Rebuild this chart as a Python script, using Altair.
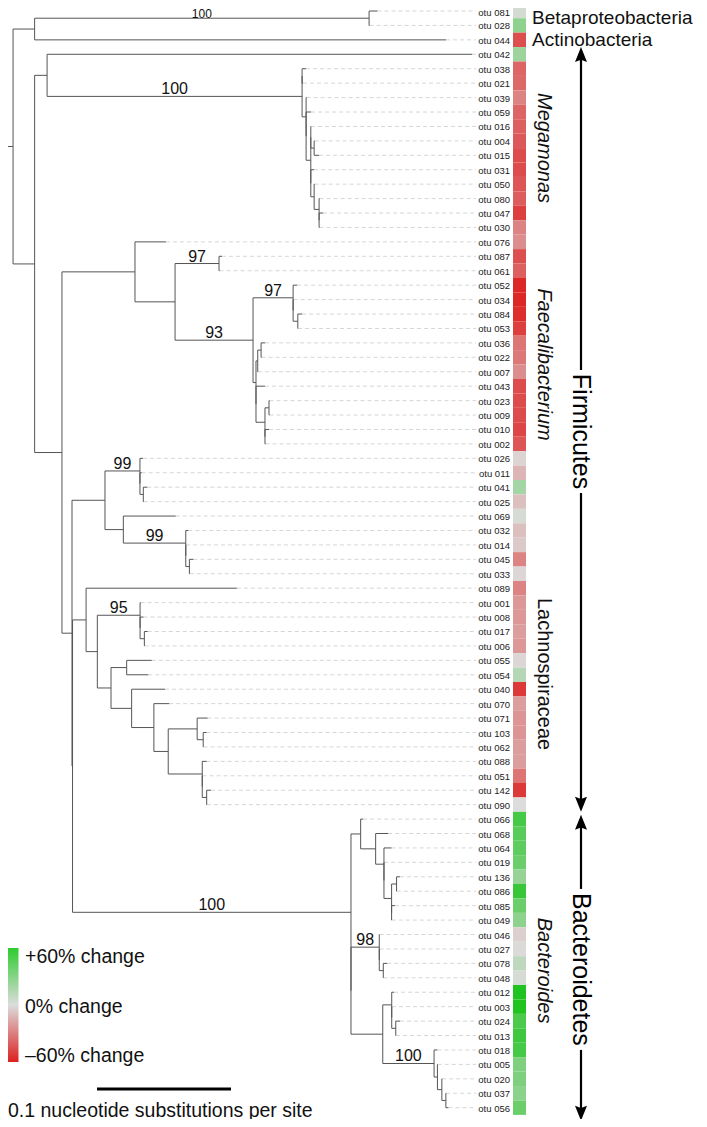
import altair as alt
import pandas as pd

# ---------------- data ----------------
# Tree in Newick fragments: branch lengths in nucleotide substitutions per site,
# internal labels are bootstrap values.
NWK_OUTGROUP = "((081:0.0063,028:0.0004)100:0.2496,044:0.3070)"
NWK_MEGAMONAS = ("((038:0.0030,021:0.0007):0,(039:0.0004,(059:0.0037,((016:0.0002,"
                 "(004:0.0004,015:0.0037):0.0025):0,(031:0.0025,(050:0.0004,(080:0.0004,"
                 "(047:0.0030,030:0.0004):0):0.0037):0.0025):0):0.0035):0):0.0030)100")
NWK_FAECALI = ("((087:0.0022,061:0.0004)97:0.0328,((052:0.0030,(034:0.0004,(084:0.0032,"
               "053:0.0002):0.0035):0)97:0.0299,(((036:0.0030,022:0.0004):0.0025,007:0.0002)"
               ":0.0013,(043:0.0067,((023:0.0004,009:0.0004):0.0030,(010:0.0030,002:0.0004)"
               ":0):0.0067):0):0.0022)93:0.0582)")
NWK_LACHNO_A = ("((026:0.0022,(011:0.0013,(041:0.0030,025:0.0004):0.0025):0)99:0.0261,"
                "(069:0.0391,(032:0.0019,(014:0.0002,(045:0.0030,033:0.0003):0.0027):0)"
                "99:0.0466):0.0137)")
NWK_LACHNO_B = ("(089:0.1125,((001:0.0004,(008:0.0025,(017:0.0025,006:0.0002):0.0032):0)"
                "95:0.0319,((055:0.0187,054:0.0161):0.0117,(040:0.0249,(070:0.0114,"
                "((071:0.0078,(103:0.0025,062:0.0002):0.0045):0.0216,(088:0.0033,(051:0.0002,"
                "(142:0.0032,090:0.0002):0.0033):0):0.0254):0.0107):0.0166):0.0154):0.0102)"
                ":0.0084)")
NWK_BACTEROIDES = ("((066:0.0019,(068:0.0094,(064:0.0057,(019:0.0002,((136:0.0025,086:0.0002)"
                   ":0.0037,(085:0.0025,049:0.0002):0):0.0057):0):0.0062):0.0112):0.0072,"
                   "((046:0.0002,(027:0.0002,(078:0.0030,048:0.0002):0.0030):0)98:0.0211,"
                   "((012:0.0017,(003:0.0002,(024:0.0032,013:0.0002):0.0030):0):0.0067,"
                   "(018:0.0025,(005:0.0002,(020:0.0002,(037:0.0002,056:0.0019):0.0030)"
                   ":0.0033):0.0025)100:0.0383):0.0237):0)100")
NWK_TREE = ("({OUT}:0.0161,((042:0.3172,{MEG}:0.1903):0.0093,((076:0.0231,{FAE}:0.0299)"
            ":0.0545,({LA}:0.0246,({LB}:0.0101,{BAC}:0.2078):0.0004):0.0075):0.0204):0.0161)"
            ":0.0075;").format(OUT=NWK_OUTGROUP, MEG=NWK_MEGAMONAS, FAE=NWK_FAECALI,
                               LA=NWK_LACHNO_A, LB=NWK_LACHNO_B, BAC=NWK_BACTEROIDES)

OTU_IDS = ["081", "028", "044", "042", "038", "021", "039", "059", "016", "004", "015",
           "031", "050", "080", "047", "030", "076", "087", "061", "052", "034", "084",
           "053", "036", "022", "007", "043", "023", "009", "010", "002", "026", "011",
           "041", "025", "069", "032", "014", "045", "033", "089", "001", "008", "017",
           "006", "055", "054", "040", "070", "071", "103", "062", "088", "051", "142",
           "090", "066", "068", "064", "019", "136", "086", "085", "049", "046", "027",
           "078", "048", "012", "003", "024", "013", "018", "005", "020", "037", "056"]
PCT_CHANGE = [3, 25, -45, 20, -38, -37, -28, -38, -40, -42, -46,
              -46, -43, -41, -50, -28, -25, -45, -40, -58, -58, -56,
              -50, -33, -32, -25, -46, -46, -46, -48, -43, -3, -12,
              18, -9, 2, -9, -6, -28, -2, -28, -22, -22, -20,
              -22, -2, 12, -52, -20, -23, -23, -20, -20, -33, -52,
              0, 48, 42, 40, 36, 22, 52, 36, 25, -4, -1,
              10, 2, 60, 60, 46, 50, 48, 30, 30, 26, 36]

CLADE_NAMES = ["Megamonas", "Faecalibacterium", "Lachnospiraceae", "Bacteroides"]
CLADE_ITALIC = [True, True, False, True]
CLADE_CENTER = [9.5, 24.5, 45.95, 66.5]          # leaf-index units
PHYLA = ["Firmicutes", "Bacteroidetes"]
PHYLUM_TIPS = [(2.5, 55.5), (55.7, 76.9)]         # leaf-index units
PHYLUM_CENTER = [29.14, 66.42]
CLASS_NAMES = ["Betaproteobacteria", "Actinobacteria"]
CLASS_CENTER = [0.5, 2.0]
LEGEND_LABELS = ["+60% change", "0% change", "\u201360% change"]
LEGEND_VALUES = [60, 0, -60]
SCALE_BAR_LEN = 0.1
SCALE_TEXT = "0.1 nucleotide substitutions per site"

# ---------------- layout (page pixels) ----------------
W, H = 691, 1111
PX_PER_SUB = 1340.0
ROOT_X = 3.0
LEAF_Y0, LEAF_STEP = 11.0, 14.43
FONT = "Liberation Sans"
BOOT_FS = 16
TOP_SAFE = 8.3          # first visible page row (body margin)


def gx(px):
    return (px - ROOT_X) / PX_PER_SUB


def gy(py):
    return (py - LEAF_Y0) / LEAF_STEP


def page_y(i):
    return LEAF_Y0 + i * LEAF_STEP


# ---------------- tree parsing / layout ----------------
def parse_newick(s):
    pos = 0

    def node():
        nonlocal pos
        n = {"children": [], "name": "", "length": 0.0}
        if s[pos] == "(":
            pos += 1
            while True:
                n["children"].append(node())
                ch = s[pos]
                pos += 1
                if ch == ")":
                    break
        start = pos
        while pos < len(s) and s[pos] not in ":,();":
            pos += 1
        n["name"] = s[start:pos]
        if pos < len(s) and s[pos] == ":":
            pos += 1
            start = pos
            while pos < len(s) and s[pos] not in ",();":
                pos += 1
            n["length"] = float(s[start:pos])
        return n

    return node()


root = parse_newick(NWK_TREE)
segs, leaves, boots = [], [], []
counter = [0]


def layout(n, pdepth):
    d = pdepth + n["length"]
    if not n["children"]:
        n["y"] = counter[0]
        counter[0] += 1
        leaves.append({"id": n["name"], "y": n["y"], "tip": d})
    else:
        for c in n["children"]:
            layout(c, d)
        ys = [c["y"] for c in n["children"]]
        n["y"] = (ys[0] + ys[-1]) / 2.0
        segs.append({"x": d, "x2": d, "y": ys[0], "y2": ys[-1]})
        if n["name"]:
            base = page_y(n["y"]) - 2
            fs = BOOT_FS
            if base - 0.8 * fs < TOP_SAFE:      # keep the label inside the page margin
                fs = 12
                base = TOP_SAFE + 0.8 * fs
            boots.append({"x": (pdepth + d) / 2.0, "y": gy(base), "t": n["name"], "fs": fs})
    segs.append({"x": pdepth, "x2": d, "y": n["y"], "y2": n["y"]})


layout(root, 0.0)

change = dict(zip(OTU_IDS, PCT_CHANGE))
leaf_df = pd.DataFrame(leaves)
leaf_df["label"] = "otu " + leaf_df["id"]
leaf_df["change"] = leaf_df["id"].map(change)
leaf_df["dash_end"] = gx(476)
leaf_df["lab_x"] = gx(510)
leaf_df["lab_y"] = [gy(max(page_y(i) + 1, TOP_SAFE + 5.0)) for i in leaf_df["y"]]
leaf_df["c0"] = gx(513)
leaf_df["c1"] = gx(526)
leaf_df["y0"] = leaf_df["y"] - 0.5
leaf_df["y1"] = leaf_df["y"] + 0.5
seg_df = pd.DataFrame(segs)
boot_df = pd.DataFrame(boots)

xsc = alt.Scale(domain=[gx(8), gx(8 + W)], nice=False, zero=False)
ysc = alt.Scale(domain=[gy(8), gy(8 + H)], nice=False, zero=False, reverse=True)


def X(f):
    return alt.X(f, type="quantitative", scale=xsc, axis=None)


def Y(f):
    return alt.Y(f, type="quantitative", scale=ysc, axis=None)


dashes = alt.Chart(leaf_df).mark_rule(color="#d6d6d6", strokeDash=[4, 3], strokeWidth=1).encode(
    x=X("tip"), x2="dash_end", y=Y("y"))
tree = alt.Chart(seg_df).mark_rule(color="#555555", strokeWidth=1).encode(
    x=X("x"), x2="x2", y=Y("y"), y2="y2")
boot = alt.Chart(boot_df).mark_text(font=FONT, align="center",
                                    baseline="alphabetic", color="#111").encode(
    x=X("x"), y=Y("y"), text="t:N", size=alt.Size("fs:Q", scale=None))
labels = alt.Chart(leaf_df).mark_text(font=FONT, fontSize=9.5, align="right",
                                      baseline="middle", color="#222").encode(
    x=X("lab_x"), y=Y("lab_y"), text="label:N")
cells = alt.Chart(leaf_df).mark_rect().encode(
    x=X("c0"), x2="c1", y=Y("y0"), y2="y1",
    color=alt.Color("change:Q", legend=None,
                    scale=alt.Scale(domain=[-60, 0, 60],
                                    range=["#dd2020", "#dcdcdc", "#20c420"],
                                    interpolate="rgb")))

clade_df = pd.DataFrame({"t": CLADE_NAMES, "y": CLADE_CENTER, "it": CLADE_ITALIC, "x": gx(544)})
clade_it = alt.Chart(clade_df[clade_df.it]).mark_text(
    font=FONT, fontSize=20, fontStyle="italic", angle=90, align="center",
    baseline="middle", color="#111").encode(x=X("x"), y=Y("y"), text="t:N")
clade_up = alt.Chart(clade_df[~clade_df.it]).mark_text(
    font=FONT, fontSize=20, angle=90, align="center",
    baseline="middle", color="#111").encode(x=X("x"), y=Y("y"), text="t:N")

phy_df = pd.DataFrame({"t": PHYLA, "y": PHYLUM_CENTER, "x": gx(581)})
phy_text = alt.Chart(phy_df).mark_text(font=FONT, fontSize=25, angle=90, align="center",
                                       baseline="middle", color="#000").encode(
    x=X("x"), y=Y("y"), text="t:N")
GAP_HALF = [61.5 / LEAF_STEP, 80.5 / LEAF_STEP]
arrow_rows = []
heads = []
for (top, bot), c, g in zip(PHYLUM_TIPS, PHYLUM_CENTER, GAP_HALF):
    arrow_rows.append({"y": top + 0.3, "y2": c - g})
    arrow_rows.append({"y": c + g, "y2": bot - 0.3})
    heads.append({"y": top, "dir": "up"})
    heads.append({"y": bot, "dir": "down"})
arrow_df = pd.DataFrame(arrow_rows)
arrow_df["x"] = gx(581)
head_df = pd.DataFrame(heads)
head_df["x"] = gx(581)
arrows = alt.Chart(arrow_df).mark_rule(color="#000", strokeWidth=2.2).encode(
    x=X("x"), y=Y("y"), y2="y2")
head_up = alt.Chart(head_df[head_df.dir == "up"]).mark_point(
    shape="M0,0L-0.8,2L0,1.7L0.8,2Z", filled=True, size=225, color="#000", opacity=1).encode(
    x=X("x"), y=Y("y"))
head_dn = alt.Chart(head_df[head_df.dir == "down"]).mark_point(
    shape="M0,0L-0.8,-2L0,-1.7L0.8,-2Z", filled=True, size=225, color="#000", opacity=1).encode(
    x=X("x"), y=Y("y"))

class_df = pd.DataFrame({"t": CLASS_NAMES, "y": CLASS_CENTER, "x": gx(532)})
class_text = alt.Chart(class_df).mark_text(font=FONT, fontSize=19, align="left",
                                           baseline="middle", color="#111").encode(
    x=X("x"), y=Y("y"), text="t:N")

# legend
grad_df = pd.DataFrame({"x": [gx(8)], "x2": [gx(18.5)], "y": [gy(948)], "y2": [gy(1062)]})
grad = alt.Chart(grad_df).mark_rect(fill={
    "gradient": "linear", "x1": 0, "y1": 0, "x2": 0, "y2": 1,
    "stops": [{"offset": 0, "color": "#2ecc2e"}, {"offset": 0.5, "color": "#dcdcdc"},
              {"offset": 1, "color": "#dd2020"}]}).encode(
    x=X("x"), x2="x2", y=Y("y"), y2="y2")
leg_df = pd.DataFrame({"t": LEGEND_LABELS, "v": LEGEND_VALUES})
leg_df["y"] = [gy(1006.5 - v * 0.825) for v in LEGEND_VALUES]
leg_df["x"] = gx(25)
leg_text = alt.Chart(leg_df).mark_text(font=FONT, fontSize=19.5, align="left",
                                       baseline="middle", color="#111").encode(
    x=X("x"), y=Y("y"), text="t:N")

# scale bar
sb_df = pd.DataFrame({"x": [gx(97)], "x2": [gx(97) + SCALE_BAR_LEN], "y": [gy(1089)],
                      "t": [SCALE_TEXT], "tx": [gx(8)], "ty": [gy(1110.5)]})
sbar = alt.Chart(sb_df).mark_rule(color="#000", strokeWidth=3).encode(
    x=X("x"), x2="x2", y=Y("y"))
stext = alt.Chart(sb_df).mark_text(font=FONT, fontSize=19.5, align="left",
                                   baseline="middle", color="#111").encode(
    x=X("tx"), y=Y("ty"), text="t:N")

chart = alt.layer(dashes, tree, boot, labels, cells, clade_it, clade_up, arrows, head_up,
                  head_dn, phy_text, class_text, grad, leg_text, sbar, stext).properties(
    width=W, height=H, padding=0, autosize=alt.AutoSizeParams(type="none"),
    background="white").configure_view(stroke=None)

chart.save("out.html", embed_options={"renderer": "svg", "actions": False})
